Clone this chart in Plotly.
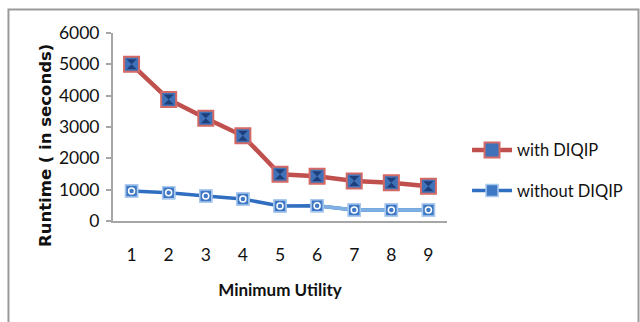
import plotly.graph_objects as go

# Runtime comparison data
min_utility = [1, 2, 3, 4, 5, 6, 7, 8, 9]
with_diqip = [5000, 3880, 3280, 2720, 1490, 1430, 1280, 1220, 1110]
without_diqip = [960, 900, 800, 700, 480, 490, 350, 350, 350]
y_ticks = [0, 1000, 2000, 3000, 4000, 5000, 6000]

RED = "#C0504D"
BLUE = "#2F6EC0"
BLUE_LIGHT = "#7FB0E4"
NAVY = "#1F3F7A"
FONT = "Lato"

fig = go.Figure()

fig.add_trace(go.Scatter(
    x=min_utility, y=with_diqip, name="with DIQIP", mode="lines+markers",
    legendgroup="a",
    line=dict(color=RED, width=4.5),
    marker=dict(symbol="square", size=15, color="#3F72B8",
                line=dict(color="#D46A66", width=2)),
))
fig.add_trace(go.Scatter(
    x=min_utility, y=with_diqip, mode="markers", showlegend=False,
    hoverinfo="skip",
    marker=dict(symbol="hourglass", size=10, color=NAVY, line=dict(width=0)),
))

fig.add_trace(go.Scatter(
    x=min_utility, y=without_diqip, name="without DIQIP", mode="lines+markers",
    legendgroup="b",
    line=dict(color=BLUE, width=3.5),
    marker=dict(symbol="square", size=12, color="#3F78C4",
                line=dict(color="#A9C8EE", width=1.5)),
))
# lighter tail of the series line
fig.add_trace(go.Scatter(
    x=min_utility[5:], y=without_diqip[5:], mode="lines", showlegend=False,
    hoverinfo="skip", line=dict(color=BLUE_LIGHT, width=3.5),
))
fig.add_trace(go.Scatter(
    x=min_utility, y=without_diqip, mode="markers", showlegend=False,
    hoverinfo="skip",
    marker=dict(symbol="square", size=12, color="#3F78C4",
                line=dict(color="#A9C8EE", width=1.5)),
))
fig.add_trace(go.Scatter(
    x=min_utility, y=without_diqip, mode="markers", showlegend=False,
    hoverinfo="skip",
    marker=dict(symbol="circle-open", size=6, color="white", line=dict(width=1.5)),
))

# outer chart frame
fig.add_shape(type="rect", xref="paper", yref="paper",
              x0=-0.313, x1=1.5734, y0=-0.6, y1=1.125,
              line=dict(color="#9A9A9A", width=2), fillcolor="rgba(0,0,0,0)",
              layer="below")

# vertical axis title
fig.add_annotation(
    text="<b>Runtime ( in seconds)</b>", textangle=-90,
    xref="paper", yref="paper", x=-0.2036, y=0.404,
    xanchor="center", yanchor="middle", showarrow=False,
    font=dict(family="DejaVu Sans", size=16.5, color="#111111"),
)

fig.update_layout(
    width=640, height=322,
    margin=dict(l=113, r=193, t=33, b=101),
    paper_bgcolor="white", plot_bgcolor="white",
    font=dict(family=FONT, size=17, color="#111111"),
    showlegend=True,
    legend=dict(x=1.06, y=0.27, xanchor="left", yanchor="middle",
                tracegroupgap=16, font=dict(family=FONT, size=16.5),
                bgcolor="rgba(0,0,0,0)", itemwidth=40),
    xaxis=dict(
        range=[0.5, 9.5], tickmode="array", tickvals=min_utility,
        ticktext=[str(v) for v in min_utility],
        showgrid=False, zeroline=False, showline=True,
        linecolor="#A6A6A6", linewidth=2, ticks="",
        ticklabelstandoff=17,
        tickfont=dict(family=FONT, size=17.5),
        title=dict(text="<b>Minimum Utility</b>", standoff=20,
                   font=dict(family=FONT, size=17)),
    ),
    yaxis=dict(
        range=[0, 6000], tickmode="array", tickvals=y_ticks,
        showgrid=False, zeroline=False, showline=True,
        linecolor="#A6A6A6", linewidth=2, ticks="outside", ticklen=5,
        tickcolor="#A6A6A6", tickwidth=1.5,
        ticklabelstandoff=3,
        tickfont=dict(family=FONT, size=17.5),
    ),
)

fig.write_html("out.html")
